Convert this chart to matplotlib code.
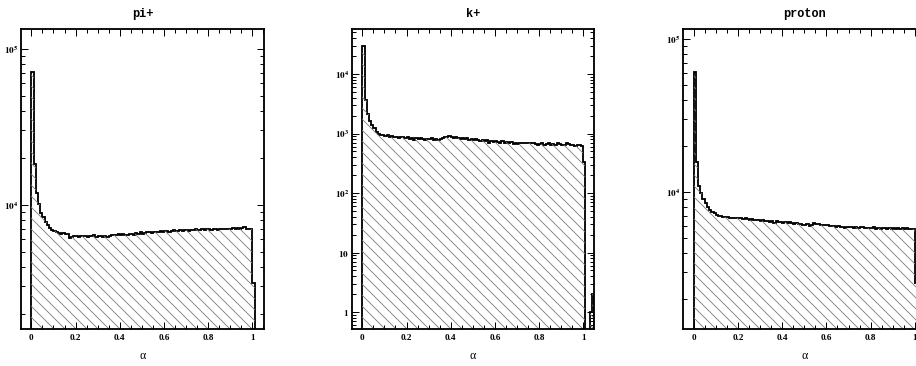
# -*- coding: utf-8 -*-
import numpy as np
import matplotlib
matplotlib.use("Agg")
import matplotlib.pyplot as plt
from matplotlib.collections import LineCollection
from matplotlib.transforms import IdentityTransform
from matplotlib.ticker import LogLocator, NullFormatter, FuncFormatter, MultipleLocator

# bin width 0.01, bins start at alpha = 0
bin_width = 0.01
titles = ["pi+", "k+", "proton"]

pi_counts = [71000, 18300, 11900, 10100, 8900, 8300, 7800, 7400, 7100, 6850,
             6750, 6650, 6600, 6550, 6600, 6550, 6500, 6150, 6250, 6300,
             6300, 6250, 6300, 6350, 6300, 6250, 6350, 6300, 6400, 6200,
             6350, 6300, 6250, 6300, 6200, 6350, 6400, 6400, 6450, 6500,
             6450, 6550, 6400, 6450, 6500, 6550, 6450, 6600, 6550, 6650,
             6500, 6600, 6700, 6650, 6600, 6700, 6650, 6700, 6750, 6650,
             6750, 6800, 6700, 6750, 6850, 6800, 6750, 6850, 6800, 6900,
             6850, 6800, 6900, 6850, 6950, 6850, 6900, 6950, 6850, 6950,
             7000, 6900, 6950, 7000, 6900, 7000, 7050, 6950, 7050, 7000,
             7050, 7100, 7000, 7100, 7050, 7150, 7200, 7000, 6950, 6950,
             3150]

k_counts = [29500, 3700, 2100, 1600, 1380, 1220, 1080, 1000, 960, 940,
            910, 930, 880, 900, 870, 890, 850, 880, 860, 830,
            870, 820, 850, 790, 840, 800, 830, 810, 790, 820,
            800, 830, 790, 810, 780, 820, 840, 860, 880, 900,
            870, 850, 880, 840, 820, 850, 800, 830, 790, 810,
            770, 800, 780, 760, 790, 740, 770, 700, 760, 720,
            750, 730, 700, 740, 680, 720, 690, 710, 660, 690,
            670, 700, 680, 690, 700, 680, 690, 700, 670, 650,
            660, 680, 640, 670, 690, 650, 660, 630, 680, 670,
            640, 650, 690, 660, 630, 640, 610, 650, 640, 620,
            330, 0, 0, 1, 2]

p_counts = [61000, 15700, 11000, 9900, 9000, 8500, 8000, 7650, 7400, 7250,
            7100, 7000, 6950, 6900, 6850, 6880, 6800, 6750, 6780, 6720,
            6700, 6750, 6650, 6700, 6620, 6580, 6650, 6550, 6500, 6580,
            6450, 6500, 6420, 6480, 6380, 6450, 6300, 6420, 6350, 6400,
            6300, 6380, 6250, 6350, 6280, 6200, 6250, 6150, 6200, 6100,
            6050, 6150, 6000, 6100, 6250, 6200, 6150, 6100, 6050, 6120,
            6080, 6000, 5950, 6020, 5900, 5950, 5880, 5920, 5850, 5900,
            5880, 5920, 5850, 5900, 5820, 5880, 5900, 5800, 5850, 5780,
            5830, 5880, 5760, 5820, 5750, 5800, 5830, 5750, 5780, 5720,
            5800, 5750, 5850, 5700, 5780, 5720, 5800, 5680, 5750, 5700,
            2540]

all_counts = [pi_counts, k_counts, p_counts]
y_ranges = [(1600, 134000), (0.52, 57000), (1270, 116000)]
x_ranges = [(-0.047, 1.053), (-0.047, 1.049), (-0.048, 1.05)]


def log_label(v, pos):
    e = int(round(np.log10(v)))
    if e == 0:
        return r"$\mathbf{1}$"
    if e == 1:
        return r"$\mathbf{10}$"
    return r"$\mathbf{10^{%d}}$" % e


def hatch_lines(ax, clip, spacing=11):
    # ROOT-like "\\" fill: 45 degree lines, fixed pixel spacing
    x0, y0, x1, y1 = ax.bbox.extents
    h = y1 - y0
    segs = []
    for c in np.arange(x0 - h, x1 + spacing, spacing):
        segs.append([(c, y1), (c + h, y0)])
    lc = LineCollection(segs, colors="#7a7a7a", linewidths=0.9,
                        transform=IdentityTransform())
    ax.add_collection(lc, autolim=False)
    lc.set_clip_path(clip)


def main():
    dpi = 66
    plt.rcParams["mathtext.fontset"] = "stix"
    fig = plt.figure(figsize=(916 / dpi, 366 / dpi), dpi=dpi)
    lefts = [21 / 916, 352 / 916, 683 / 916]
    widths = [243 / 916, 242 / 916, 243 / 916]
    for i in range(3):
        ax = fig.add_axes([lefts[i], 1 - 329 / 366, widths[i], 300 / 366])
        counts = np.array(all_counts[i], dtype=float)
        edges = np.arange(len(counts) + 1) * bin_width
        ylo, yhi = y_ranges[i]
        vals = np.where(counts > 0, counts, ylo * 0.5)
        ax.set_yscale("log")
        ax.set_xlim(*x_ranges[i])
        ax.set_ylim(ylo, yhi)
        area = ax.stairs(vals, edges, baseline=ylo * 0.5, fill=True,
                         facecolor="none", edgecolor="none", linewidth=0)
        hatch_lines(ax, area)
        ax.stairs(vals, edges, baseline=ylo * 0.5, fill=False, color="black",
                  linewidth=2.0)
        ax.set_xlim(*x_ranges[i])
        ax.set_ylim(ylo, yhi)

        ax.xaxis.set_major_locator(MultipleLocator(0.2))
        ax.xaxis.set_minor_locator(MultipleLocator(0.05))
        ax.xaxis.set_major_formatter(FuncFormatter(lambda v, p: "%g" % round(v, 2)))
        ax.yaxis.set_major_locator(LogLocator(base=10, numticks=20))
        ax.yaxis.set_minor_locator(LogLocator(base=10, subs=np.arange(2, 10), numticks=100))
        ax.yaxis.set_major_formatter(FuncFormatter(log_label))
        ax.yaxis.set_minor_formatter(NullFormatter())
        ax.tick_params(which="both", direction="in", top=True, right=True, width=1.1)
        ax.tick_params(which="major", length=7.5)
        ax.tick_params(which="minor", length=4.2)
        ax.tick_params(axis="x", pad=6)
        ax.tick_params(axis="y", pad=3)
        for lab in ax.get_xticklabels():
            lab.set_fontfamily("Liberation Serif")
            lab.set_fontweight("bold")
            lab.set_fontsize(10)
        for lab in ax.get_yticklabels():
            lab.set_fontsize(10)
        for sp in ax.spines.values():
            sp.set_linewidth(2.0)
        ax.set_title(titles[i], family="Liberation Mono", fontweight="bold",
                     fontsize=13, pad=13)
        ax.set_xlabel("α", family="Liberation Serif", fontsize=13, labelpad=8)
    fig.savefig("out.png", dpi=dpi)


if __name__ == "__main__":
    main()
